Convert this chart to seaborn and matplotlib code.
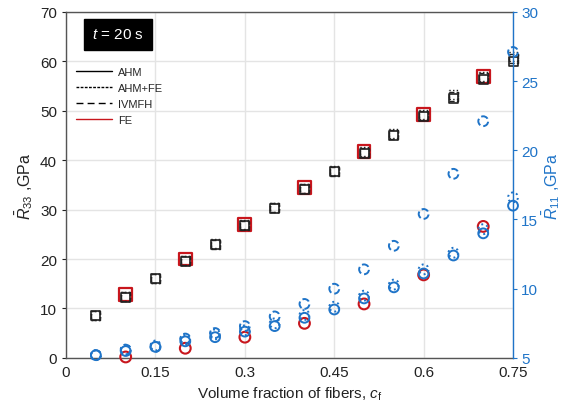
import numpy as np
import pandas as pd
import matplotlib
matplotlib.use("Agg")
import matplotlib.pyplot as plt
from matplotlib.lines import Line2D
import seaborn as sns

sns.set_style("white")
plt.rcParams['font.family'] = ['Liberation Sans', 'DejaVu Sans']
plt.rcParams['mathtext.fontset'] = 'custom'
plt.rcParams['mathtext.rm'] = 'Liberation Sans'
plt.rcParams['mathtext.it'] = 'Liberation Sans:italic'

# ---------------- data ----------------
cf = [0.05, 0.10, 0.15, 0.20, 0.25, 0.30, 0.35, 0.40, 0.45, 0.50, 0.55, 0.60, 0.65, 0.70, 0.75]
cf_fe = [0.10, 0.20, 0.30, 0.40, 0.50, 0.60, 0.70]

r33_ahm = [8.5, 12.3, 16.0, 19.5, 23.0, 26.7, 30.3, 34.0, 37.7, 41.3, 45.0, 48.8, 52.5, 56.3, 60.0]
r33_ahmfe = [8.6, 12.5, 16.1, 19.8, 23.1, 26.9, 30.5, 34.3, 37.9, 41.7, 45.4, 49.2, 53.2, 57.0, 61.0]
r33_ivmfh = [8.5, 12.4, 16.0, 19.7, 23.0, 26.8, 30.4, 34.2, 37.8, 41.5, 45.2, 49.0, 52.8, 56.7, 60.5]
r33_fe = [12.8, 20.0, 27.0, 34.5, 41.8, 49.2, 57.0]

r11_ahm = [5.2, 5.5, 5.8, 6.2, 6.5, 6.9, 7.3, 7.9, 8.5, 9.3, 10.1, 11.1, 12.4, 14.0, 16.0]
r11_ahmfe = [5.2, 5.6, 5.9, 6.3, 6.7, 7.0, 7.5, 8.1, 8.7, 9.5, 10.3, 11.4, 12.6, 14.3, 16.6]
r11_ivmfh = [5.2, 5.6, 5.8, 6.4, 6.8, 7.3, 8.0, 8.9, 10.0, 11.4, 13.1, 15.4, 18.3, 22.1, 27.1]
r11_fe = [5.07, 5.7, 6.5, 7.5, 8.9, 11.0, 14.5]

blue = '#1f74c8'
red = '#c8161d'
black = '#222222'

fig = plt.figure(figsize=(5.65, 4.14), dpi=100)
ax = fig.add_axes([0.117, 0.133, 0.791, 0.836])
ax2 = ax.twinx()

# R33 squares on left axis
sns.scatterplot(x=cf_fe, y=r33_fe, ax=ax, marker='s', s=85, facecolor='none',
                edgecolor=red, linewidth=1.6, zorder=3, clip_on=False)
sns.scatterplot(x=cf, y=r33_ivmfh, ax=ax, marker='s', s=42, facecolor='none',
                edgecolor=black, linewidth=1.0, linestyle='--', zorder=4, clip_on=False)
sns.scatterplot(x=cf, y=r33_ahmfe, ax=ax, marker='s', s=42, facecolor='none',
                edgecolor=black, linewidth=1.0, linestyle=':', zorder=4, clip_on=False)
sns.scatterplot(x=cf, y=r33_ahm, ax=ax, marker='s', s=42, facecolor='none',
                edgecolor=black, linewidth=1.2, zorder=5, clip_on=False)

# R11 circles on right axis
sns.scatterplot(x=cf_fe, y=r11_fe, ax=ax2, marker='o', s=60, facecolor='none',
                edgecolor=red, linewidth=1.5, zorder=3, clip_on=False)
sns.scatterplot(x=cf, y=r11_ivmfh, ax=ax2, marker='o', s=50, facecolor='none',
                edgecolor=blue, linewidth=1.4, linestyle='--', zorder=4, clip_on=False)
sns.scatterplot(x=cf, y=r11_ahmfe, ax=ax2, marker='o', s=50, facecolor='none',
                edgecolor=blue, linewidth=1.4, linestyle=':', zorder=4, clip_on=False)
sns.scatterplot(x=cf, y=r11_ahm, ax=ax2, marker='o', s=50, facecolor='none',
                edgecolor=blue, linewidth=1.4, zorder=5, clip_on=False)

ax.set_xlim(0, 0.75)
ax.set_ylim(0, 70)
ax2.set_ylim(5, 30)
ax.set_xticks([0, 0.15, 0.3, 0.45, 0.6, 0.75])
ax.set_xticklabels(['0', '0.15', '0.3', '0.45', '0.6', '0.75'])
ax.set_yticks(range(0, 71, 10))
ax2.set_yticks([5, 10, 15, 20, 25, 30])

ax.grid(True, color='#e4e4e4', linewidth=1.0)
ax.set_axisbelow(True)

for s in ['left', 'bottom', 'top']:
    ax.spines[s].set_color('#555555')
    ax.spines[s].set_linewidth(1.0)
ax.spines['right'].set_visible(False)
for s in ['left', 'bottom', 'top']:
    ax2.spines[s].set_visible(False)
ax2.spines['right'].set_color(blue)
ax2.spines['right'].set_linewidth(1.0)

ax.tick_params(axis='both', labelsize=11, colors='#222222', direction='out', length=3,
               width=0.8)
ax.tick_params(axis='x', length=0, pad=5)
ax2.tick_params(axis='y', labelsize=11, colors=blue, direction='out', length=3, width=0.8,
                pad=3)

ax.set_xlabel('Volume fraction of fibers, $\\mathit{c}_{\\mathrm{f}}$', fontsize=11, color='#222222')
ax.set_ylabel('$\\bar{\\mathit{R}}_{33}$ ,GPa', fontsize=11.5, color='#222222', labelpad=4)
ax2.set_ylabel('$\\bar{\\mathit{R}}_{11}$ ,GPa', fontsize=11.5, color=blue, labelpad=1)

# t = 20 s box
ax.text(0.058, 0.935, '$\\mathit{t}$ = 20 s', transform=ax.transAxes, fontsize=11,
        color='white', ha='left', va='center',
        bbox=dict(boxstyle='square,pad=0.55', facecolor='black', edgecolor='black'))

handles = [Line2D([], [], color='black', lw=1.0, ls='-'),
           Line2D([], [], color='black', lw=1.0, ls=(0, (2, 1))),
           Line2D([], [], color='black', lw=1.0, ls=(0, (5, 3))),
           Line2D([], [], color=red, lw=1.0, ls='-')]
ax.legend(handles, ['AHM', 'AHM+FE', 'IVMFH', 'FE'], loc='upper left',
          bbox_to_anchor=(0.0, 0.87), frameon=False, fontsize=8,
          handlelength=3.2, labelspacing=0.55, handletextpad=0.6)

fig.savefig('out.png', dpi=100)
